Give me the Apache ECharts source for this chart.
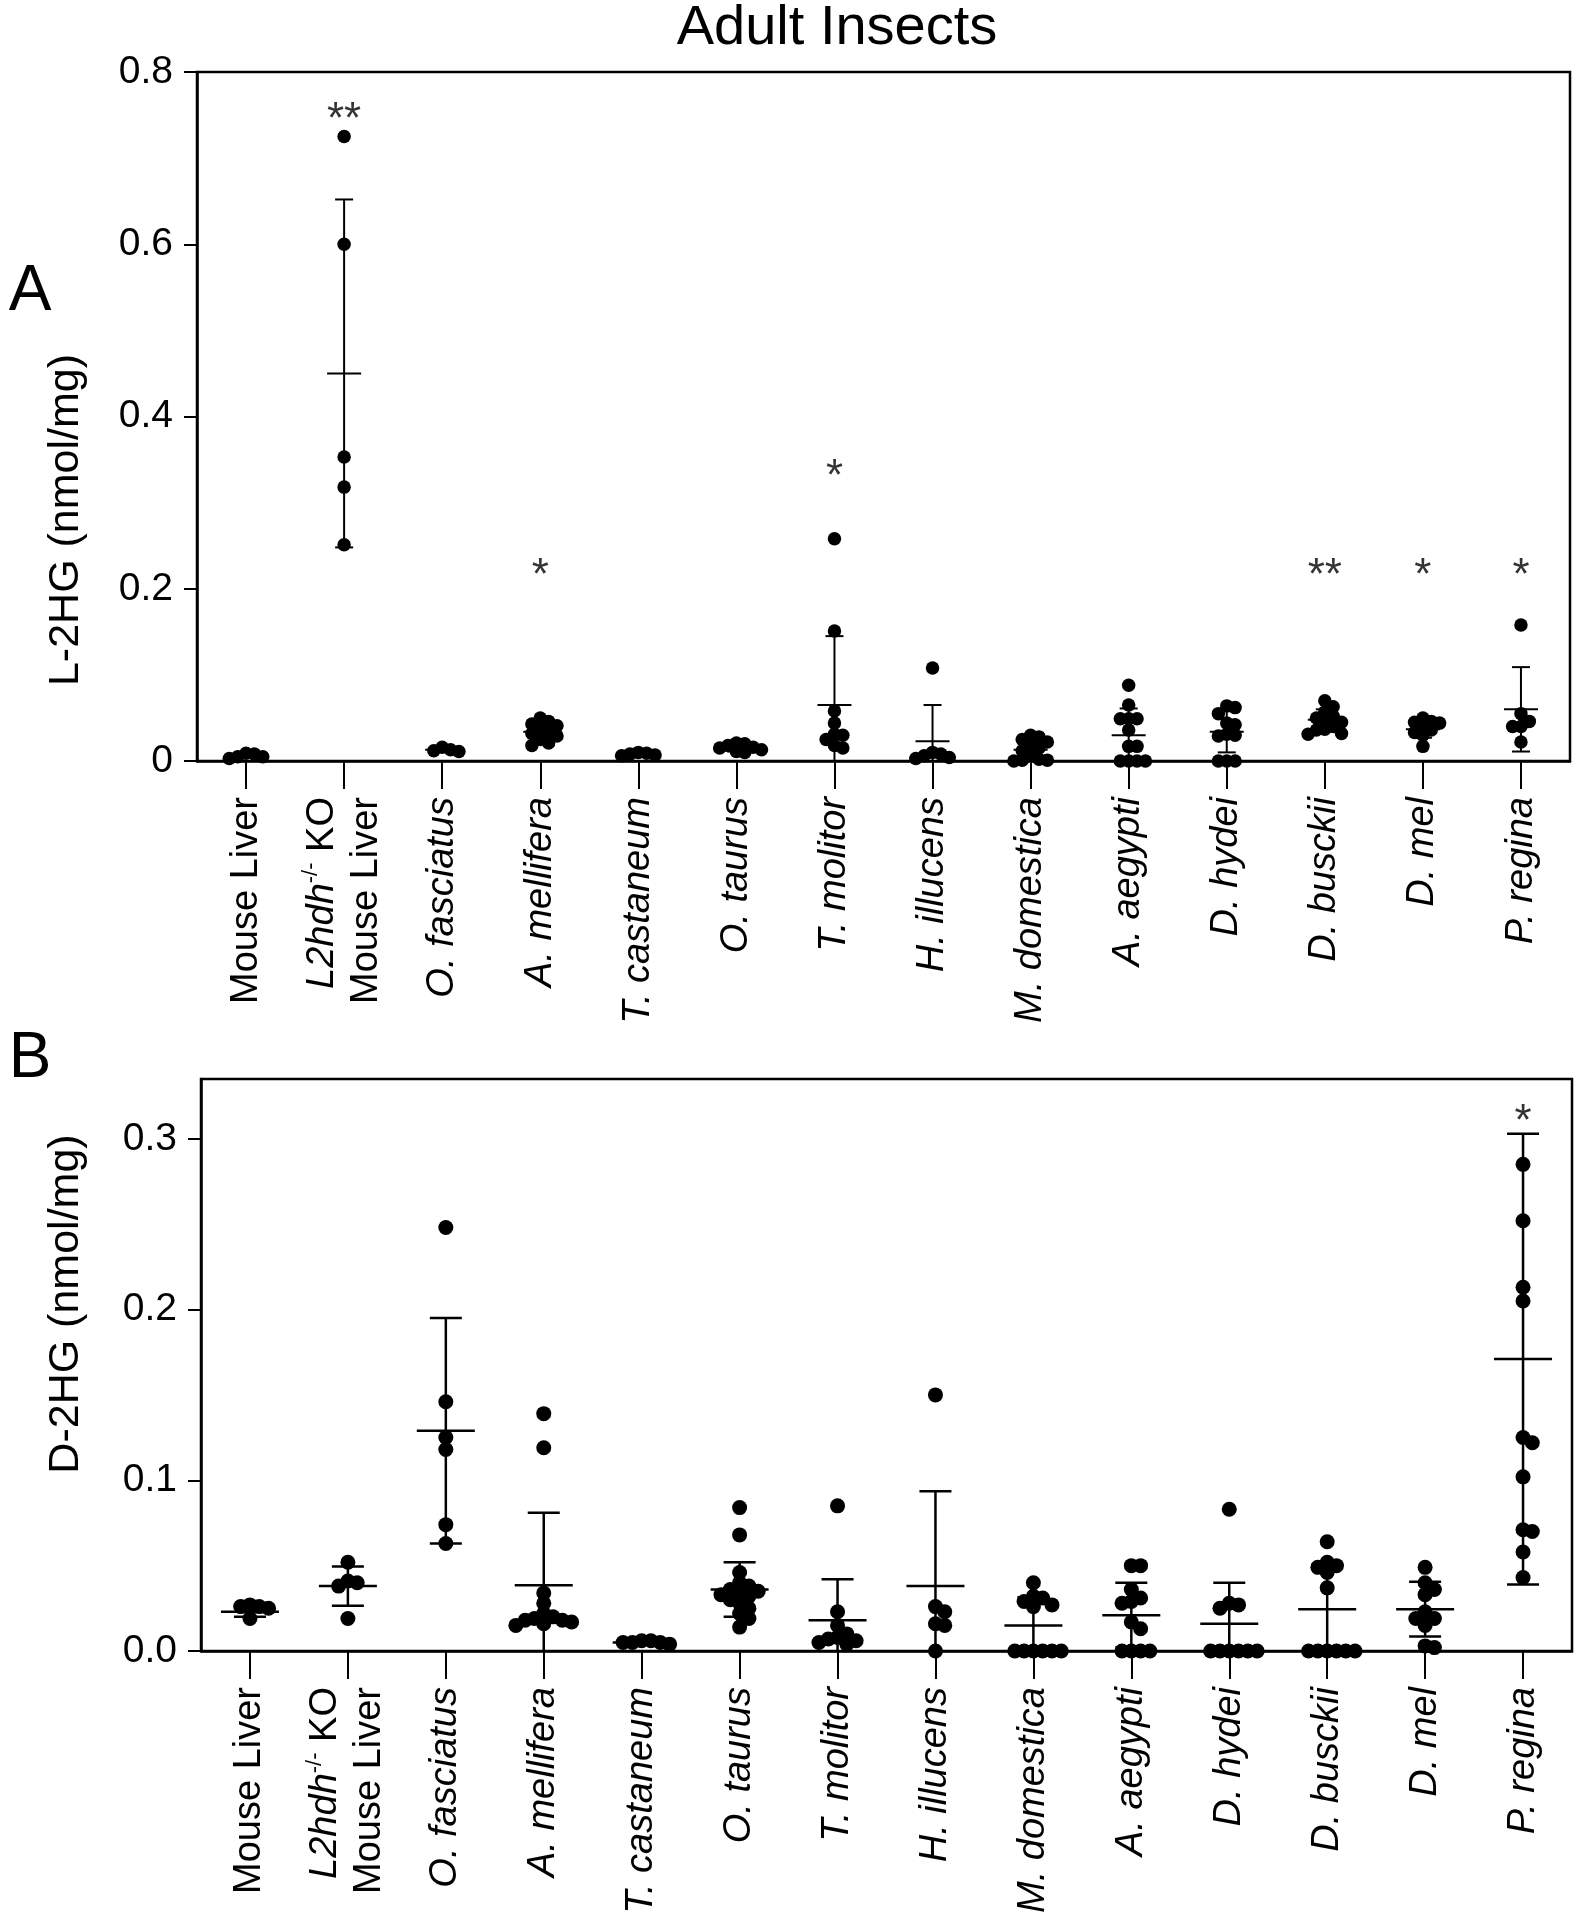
<!DOCTYPE html>
<html>
<head>
<meta charset="utf-8">
<script src="https://cdn.jsdelivr.net/npm/echarts@6/dist/echarts.min.js"></script>
<style>
  html, body { margin: 0; padding: 0; background: #fff; }
  #chart { width: 1579px; height: 1920px; }
</style>
</head>
<body>
<div id="chart"></div>
<script>
// ---------- DATA ----------
const categories = ['Mouse Liver', 'L2hdh KO Mouse Liver', 'O. fasciatus', 'A. mellifera', 'T. castaneum',
  'O. taurus', 'T. molitor', 'H. illucens', 'M. domestica', 'A. aegypti', 'D. hydei', 'D. busckii', 'D. mel', 'P. regina'];

// Panel A: L-2HG (nmol/mg), individual points per category
const l2hgPoints = [
  [0.009, 0.008, 0.005, 0.005, 0.003],
  [0.725, 0.600, 0.353, 0.318, 0.251],
  [0.016, 0.013, 0.012, 0.011],
  [0.050, 0.046, 0.043, 0.041, 0.038, 0.035, 0.032, 0.029, 0.025, 0.021, 0.018],
  [0.010, 0.009, 0.008, 0.007, 0.006],
  [0.021, 0.020, 0.018, 0.016, 0.015, 0.013, 0.011, 0.010],
  [0.258, 0.151, 0.058, 0.044, 0.031, 0.030, 0.025, 0.018, 0.015],
  [0.108, 0.010, 0.008, 0.006, 0.004, 0.003],
  [0.030, 0.028, 0.025, 0.022, 0.018, 0.015, 0.012, 0.008, 0.002, 0.001, 0.001, 0.000],
  [0.088, 0.065, 0.049, 0.049, 0.049, 0.036, 0.017, 0.017, 0.000, 0.000, 0.000, 0.000],
  [0.064, 0.062, 0.055, 0.044, 0.042, 0.031, 0.030, 0.029, 0.000, 0.000, 0.000],
  [0.070, 0.063, 0.057, 0.052, 0.050, 0.047, 0.045, 0.040, 0.037, 0.036, 0.032, 0.031],
  [0.050, 0.046, 0.045, 0.044, 0.040, 0.036, 0.033, 0.030, 0.017],
  [0.158, 0.055, 0.046, 0.040, 0.040, 0.022]
];
const l2hgMean = [0.006, 0.450, 0.013, 0.034, 0.008, 0.015, 0.065, 0.023, 0.013, 0.030, 0.034, 0.048, 0.037, 0.060];
const l2hgSD   = [0.002, 0.202, 0.002, 0.010, 0.0015, 0.004, 0.080, 0.042, 0.011, 0.031, 0.024, 0.012, 0.010, 0.049];
const l2hgStars = ['', '**', '', '*', '', '', '*', '', '', '', '', '**', '*', '*'];
const l2hgStarLevel = [null, 0.756, null, 0.227, null, null, 0.341, null, null, null, null, 0.226, 0.226, 0.226];

// Panel B: D-2HG (nmol/mg)
const d2hgPoints = [
  [0.027, 0.026, 0.026, 0.025, 0.019],
  [0.052, 0.041, 0.040, 0.038, 0.019],
  [0.248, 0.146, 0.125, 0.118, 0.074, 0.063],
  [0.139, 0.119, 0.034, 0.028, 0.022, 0.020, 0.019, 0.018, 0.018, 0.017, 0.016, 0.015],
  [0.006, 0.006, 0.005, 0.005, 0.005, 0.004],
  [0.084, 0.068, 0.046, 0.040, 0.038, 0.036, 0.035, 0.034, 0.033, 0.032, 0.030, 0.028, 0.025, 0.022, 0.019, 0.014],
  [0.085, 0.023, 0.015, 0.010, 0.008, 0.007, 0.006, 0.005, 0.004],
  [0.150, 0.026, 0.023, 0.016, 0.015, 0.000],
  [0.040, 0.032, 0.031, 0.029, 0.027, 0.026, 0.000, 0.000, 0.000, 0.000, 0.000, 0.000],
  [0.050, 0.050, 0.036, 0.031, 0.029, 0.028, 0.017, 0.013, 0.000, 0.000, 0.000, 0.000],
  [0.083, 0.028, 0.027, 0.025, 0.000, 0.000, 0.000, 0.000, 0.000, 0.000],
  [0.064, 0.052, 0.050, 0.049, 0.046, 0.037, 0.000, 0.000, 0.000, 0.000, 0.000, 0.000],
  [0.049, 0.040, 0.036, 0.033, 0.023, 0.019, 0.019, 0.015, 0.003, 0.002],
  [0.285, 0.252, 0.213, 0.205, 0.125, 0.122, 0.102, 0.071, 0.070, 0.058, 0.043]
];
const d2hgMean = [0.023, 0.038, 0.129, 0.0385, 0.005, 0.036, 0.018, 0.038, 0.015, 0.021, 0.016, 0.0245, 0.0245, 0.171];
const d2hgSD   = [0.003, 0.0115, 0.066, 0.0425, 0.0007, 0.016, 0.024, 0.0555, 0.0165, 0.019, 0.024, 0.026, 0.016, 0.132];
const d2hgStars = ['', '', '', '', '', '', '', '', '', '', '', '', '', '*'];
const d2hgStarLevel = [null, null, null, null, null, null, null, null, null, null, null, null, null, 0.316];

const yTicksA = [0, 0.2, 0.4, 0.6, 0.8];
const yTicksB = [0, 0.1, 0.2, 0.3];

// ---------- LAYOUT ----------
const FONT = '"Liberation Sans", Arial, Helvetica, sans-serif';
const gridA = { left: 197, top: 72, width: 1373, height: 689 };
const gridB = { left: 201, top: 1079, width: 1371, height: 572 };
const yMaxA = 0.8, yMaxB = 0.335;

// deterministic beeswarm layout (pixel-space collision avoidance)
function swarm(groups, pxPerX, pxPerY, minD) {
  const out = [];
  groups.forEach((vals, idx) => {
    const placed = [];
    vals.forEach(v => {
      const py = v * pxPerY;
      let chosen = 0;
      for (let k = 0; k < 60; k++) {
        const off = k === 0 ? 0 : (k % 2 ? 1 : -1) * Math.ceil(k / 2) * minD;
        if (placed.every(p => (p.x - off) * (p.x - off) + (p.y - py) * (p.y - py) >= minD * minD - 0.01)) {
          chosen = off; break;
        }
      }
      placed.push({ x: chosen, y: py });
      out.push([idx + chosen / pxPerX, v]);
    });
  });
  return out;
}

const dotA = 13.5, dotB = 15;
const scatterA = swarm(l2hgPoints, gridA.width / 14, gridA.height / yMaxA, dotA * 0.62);
const scatterB = swarm(d2hgPoints, gridB.width / 14, gridB.height / yMaxB, dotB * 0.62);

function errData(mean, sd) { return mean.map((m, i) => [i, m, sd[i]]); }
function starData(stars, lvl) {
  const d = [];
  stars.forEach((s, i) => { if (s) d.push([i, lvl[i], s]); });
  return d;
}

function errSeries(data, xi, yi, capHalf, meanHalf, lw) {
  return {
    type: 'custom', xAxisIndex: xi, yAxisIndex: yi, data: data, clip: true, z: 5,
    encode: { x: 0, y: 1 },
    renderItem: function (params, api) {
      const x = api.value(0), m = api.value(1), s = api.value(2);
      const pm = api.coord([x, m]);
      const pt = api.coord([x, m + s]);
      const lo = m - s;
      const pb = api.coord([x, Math.max(0, lo)]);
      const st = { stroke: '#000', lineWidth: lw };
      const children = [
        { type: 'line', shape: { x1: pm[0], y1: pt[1], x2: pm[0], y2: pb[1] }, style: st },
        { type: 'line', shape: { x1: pm[0] - capHalf, y1: pt[1], x2: pm[0] + capHalf, y2: pt[1] }, style: st },
        { type: 'line', shape: { x1: pm[0] - meanHalf, y1: pm[1], x2: pm[0] + meanHalf, y2: pm[1] }, style: st }
      ];
      if (lo > 0) children.push({ type: 'line', shape: { x1: pm[0] - capHalf, y1: pb[1], x2: pm[0] + capHalf, y2: pb[1] }, style: st });
      return { type: 'group', children: children };
    }
  };
}

function starSeries(data, xi, yi) {
  return {
    type: 'scatter', xAxisIndex: xi, yAxisIndex: yi, data: data, symbolSize: 1, z: 6,
    itemStyle: { color: 'rgba(0,0,0,0)' }, silent: true,
    label: { show: true, position: 'inside', formatter: p => p.data[2], fontSize: 44,
             fontFamily: FONT, color: '#000', offset: [0, 11] }
  };
}

const labelRich = {
  it: { fontStyle: 'italic', fontSize: 38, fontFamily: FONT, color: '#000', lineHeight: 44 },
  sup: { fontSize: 22, fontFamily: FONT, color: '#000', verticalAlign: 'top', lineHeight: 44 },
  n: { fontSize: 38, fontFamily: FONT, color: '#000', lineHeight: 44 }
};
function catFormatter(v) {
  if (v === 'Mouse Liver') return '{n|Mouse Liver}';
  if (v.indexOf('L2hdh') === 0) return '{it|L2hdh}{sup|-/-}{n| KO}\n{n|Mouse Liver}';
  return '{it|' + v + '}';
}

function catAxis(gi) {
  return {
    type: 'category', gridIndex: gi, data: categories, boundaryGap: true,
    axisLine: { show: true, onZero: false, lineStyle: { color: '#000', width: 2.5 } },
    axisTick: { show: true, alignWithLabel: true, length: 28, lineStyle: { color: '#000', width: 2 } },
    axisLabel: { interval: 0, rotate: 90, margin: 36, fontSize: 38, fontFamily: FONT, color: '#000',
                 lineHeight: 44, formatter: catFormatter, rich: labelRich },
    splitLine: { show: false }
  };
}
function valXAxis(gi) {
  return { type: 'value', gridIndex: gi, min: -0.5, max: 13.5, show: false,
           axisLine: { show: false, onZero: false }, splitLine: { show: false } };
}
function valYAxis(gi, max, ticks, fmt) {
  return {
    type: 'value', gridIndex: gi, min: 0, max: max,
    axisLine: { show: true, onZero: false, lineStyle: { color: '#000', width: 2.5 } },
    axisTick: { show: true, length: 13, customValues: ticks, lineStyle: { color: '#000', width: 2 } },
    axisLabel: { show: true, customValues: ticks, margin: 24, fontSize: 39, fontFamily: FONT, color: '#000', formatter: fmt },
    splitLine: { show: false }
  };
}

const chart = echarts.init(document.getElementById('chart'), null, { renderer: 'canvas' });
chart.setOption({
  backgroundColor: '#fff',
  animation: false,
  grid: [
    Object.assign({ show: true, borderColor: '#000', borderWidth: 2.5, containLabel: false }, gridA),
    Object.assign({ show: true, borderColor: '#000', borderWidth: 2.5, containLabel: false }, gridB)
  ],
  xAxis: [catAxis(0), valXAxis(0), catAxis(1), valXAxis(1)],
  yAxis: [
    valYAxis(0, yMaxA, yTicksA, v => (v === 0 ? '0' : v.toFixed(1))),
    valYAxis(1, yMaxB, yTicksB, v => v.toFixed(1))
  ],
  graphic: [
    { type: 'text', x: 837, y: 29, style: { text: 'Adult Insects', font: '56px ' + FONT, fill: '#000',
      align: 'center', verticalAlign: 'middle', textAlign: 'center', textVerticalAlign: 'middle' } },
    { type: 'text', x: 30, y: 292, style: { text: 'A', font: '64px ' + FONT, fill: '#000',
      align: 'center', verticalAlign: 'middle', textAlign: 'center', textVerticalAlign: 'middle' } },
    { type: 'text', x: 30, y: 1059, style: { text: 'B', font: '64px ' + FONT, fill: '#000',
      align: 'center', verticalAlign: 'middle', textAlign: 'center', textVerticalAlign: 'middle' } },
    { type: 'text', x: 66, y: 520, rotation: Math.PI / 2, style: { text: 'L-2HG (nmol/mg)', font: '43px ' + FONT, fill: '#000',
      align: 'center', verticalAlign: 'middle', textAlign: 'center', textVerticalAlign: 'middle' } },
    { type: 'text', x: 66, y: 1304, rotation: Math.PI / 2, style: { text: 'D-2HG (nmol/mg)', font: '43px ' + FONT, fill: '#000',
      align: 'center', verticalAlign: 'middle', textAlign: 'center', textVerticalAlign: 'middle' } }
  ],
  series: [
    { type: 'scatter', xAxisIndex: 1, yAxisIndex: 0, data: scatterA, symbol: 'circle', symbolSize: dotA,
      itemStyle: { color: '#000', opacity: 1 }, z: 4 },
    errSeries(errData(l2hgMean, l2hgSD), 1, 0, 9, 17, 2),
    starSeries(starData(l2hgStars, l2hgStarLevel), 1, 0),
    { type: 'scatter', xAxisIndex: 3, yAxisIndex: 1, data: scatterB, symbol: 'circle', symbolSize: dotB,
      itemStyle: { color: '#000', opacity: 1 }, z: 4 },
    errSeries(errData(d2hgMean, d2hgSD), 3, 1, 16, 29, 2.5),
    starSeries(starData(d2hgStars, d2hgStarLevel), 3, 1)
  ]
});
</script>
</body>
</html>
